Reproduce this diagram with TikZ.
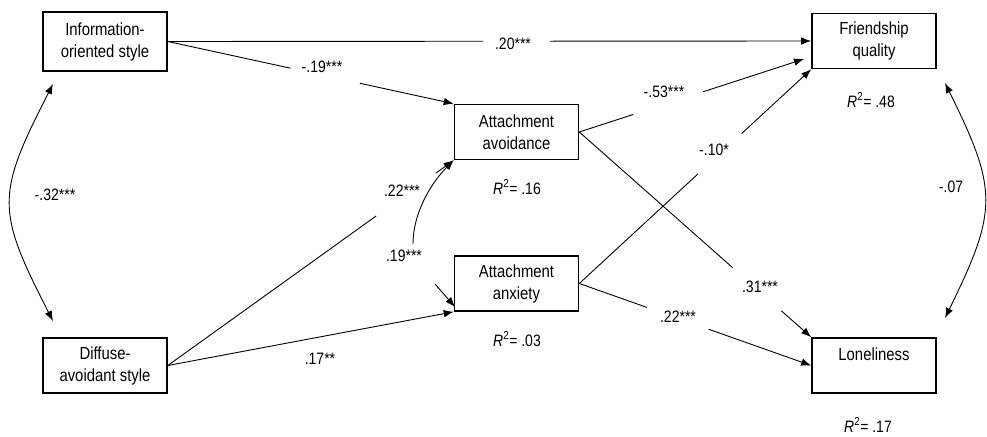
\documentclass[tikz,border=0pt]{standalone}
\usepackage{fontspec}
\setmainfont{Liberation Sans}[FakeStretch=0.85]
\usetikzlibrary{arrows.meta,calc}
\begin{document}
\begin{tikzpicture}[x=1pt,y=-1pt,
 box/.style={draw,line width=1.6pt,minimum width=124pt,minimum height=55pt,inner sep=0pt,align=center,font=\fontsize{17.5}{22}\selectfont},
 lbl/.style={inner sep=0pt,font=\fontsize{16.5}{20}\selectfont},
 conn/.style={line width=0.9pt},
 arr/.style={line width=0.9pt,-{Latex[length=10pt,width=7.5pt]}},
 darr/.style={line width=0.9pt,{Latex[length=10pt,width=7.5pt]}-{Latex[length=10pt,width=7.5pt]}}]
\useasboundingbox (0,0) rectangle (987,436);
% boxes
\node[box,minimum height=59pt] (info) at (105,41.5) {Information-\\oriented style};
\node[box] (dif) at (105,365.5) {Diffuse-\\avoidant style};
\node[box] (avo) at (516.5,132) {Attachment\\avoidance};
\node[box] (anx) at (516.5,283.5) {Attachment\\anxiety};
\node[box] (fr) at (874,41) {Friendship\\quality};
\node[box] (lon) at (874,365.5) {Loneliness\\\mbox{}};
% free ends
\coordinate (frin) at (804,59);
\coordinate (c19a) at (413,244);
\coordinate (c19b) at (435,284);
\coordinate (c19e) at (455,307);
\coordinate (lct) at (53,84);
\coordinate (lcb) at (53,321);
\coordinate (rct) at (945,83);
\coordinate (rcb) at (945,318);
% .20
\draw[conn] (info.east) -- ($(info.east)!0.49!(fr.west)$);
\draw[arr] ($(info.east)!0.594!(fr.west)$) -- (fr.west);
\node[lbl] (l20) at (513,44) {.20***};
% -.19
\draw[conn] (info.east) -- ($(info.east)!0.429!(avo.north west)$);
\draw[arr] ($(info.east)!0.672!(avo.north west)$) -- (avo.north west);
\node[lbl] (l19a) at (322,67) {-.19***};
% .22 diffuse -> avoidance
\draw[conn] (dif.east) -- ($(dif.east)!0.729!(avo.south west)$);
\draw[arr] ($(dif.east)!0.9375!(avo.south west)$) -- (avo.south west);
\node[lbl] (l22a) at (402,191) {.22***};
% .17
\draw[arr] (dif.east) -- (anx.south west);
\node[lbl] (l17) at (320,359) {.17**};
% .19 covariance
\draw[arr] (c19a) .. controls (413,212) and (432,182) .. (avo.south west);
\draw[arr] (c19b) -- (c19e);
\node[lbl] (l19b) at (404,256) {.19***};
% -.53
\draw[conn] (avo.east) -- ($(avo.east)!0.24!(frin)$);
\draw[arr] ($(avo.east)!0.551!(frin)$) -- (frin);
\node[lbl] (l53) at (664,92) {-.53***};
% -.10
\draw[conn] (anx.east) -- ($(anx.east)!0.511!(fr.south west)$);
\draw[arr] ($(anx.east)!0.70!(fr.south west)$) -- (fr.south west);
\node[lbl] (l10) at (714,150) {-.10*};
% .31
\draw[conn] (avo.east) -- ($(avo.east)!0.661!(lon.north west)$);
\draw[arr] ($(avo.east)!0.871!(lon.north west)$) -- (lon.north west);
\node[lbl] (l31) at (760,287) {.31***};
% .22 anxiety -> loneliness
\draw[conn] (anx.east) -- ($(anx.east)!0.292!(lon.west)$);
\draw[arr] ($(anx.east)!0.558!(lon.west)$) -- (lon.west);
\node[lbl] (l22b) at (678,317) {.22***};
% correlations
\draw[darr] (lct) .. controls (-4,195) and (-4,210) .. (lcb);
\node[lbl] (l32) at (55,195) {-.32***};
\draw[darr] (rct) .. controls (998,190) and (998,210) .. (rcb);
\node[lbl] (l07) at (951,187) {-.07};
% R squared
\node[lbl] (r48) at (871,100) {\textit{R}\textsuperscript{2}= .48};
\node[lbl] (r16) at (517,187) {\textit{R}\textsuperscript{2}= .16};
\node[lbl] (r03) at (517,339) {\textit{R}\textsuperscript{2}= .03};
\node[lbl] (r17) at (868,425) {\textit{R}\textsuperscript{2}= .17};
\end{tikzpicture}
\end{document}
